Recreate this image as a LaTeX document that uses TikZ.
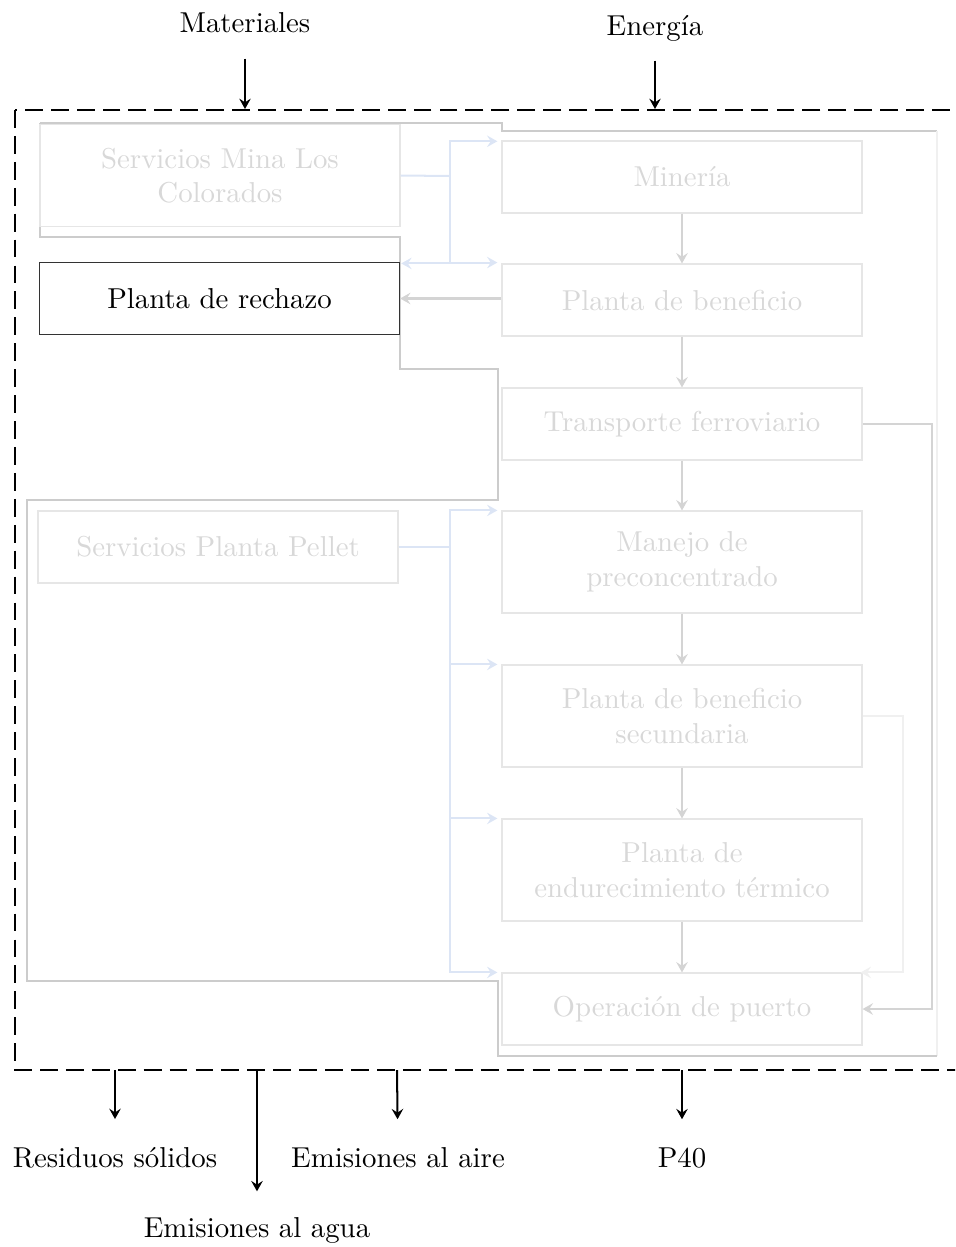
\documentclass[tikz,border=0pt]{standalone}
\usetikzlibrary{arrows.meta}
\definecolor{boxline}{HTML}{E6E6E6}
\definecolor{boxtext}{HTML}{D8D8D8}
\definecolor{flowgray}{HTML}{D4D4D4}
\definecolor{flowblue}{HTML}{DCE5F5}
\definecolor{framegray}{HTML}{CCCCCC}
\definecolor{faintgray}{HTML}{F0F0F0}
\begin{document}
\begin{tikzpicture}[x=0.3472pt,y=-0.3472pt,
  >={Stealth[length=3.6pt,width=4pt,inset=1.3pt]},
  proc/.style={draw=boxline, line width=0.4pt, text=boxtext, align=center,
    inner sep=0pt, minimum width=360*0.3472pt, minimum height=72*0.3472pt},
  tall/.style={minimum height=102*0.3472pt},
  gflow/.style={draw=flowgray, line width=0.7pt, ->},
  bline/.style={draw=flowblue, line width=0.7pt},
  bflow/.style={bline, ->, shorten >=1.4pt},
  frame/.style={draw=framegray, line width=0.4pt},
  sysbox/.style={draw=black, line width=0.8pt, dash pattern=on 6.2pt off 2.8pt},
  io/.style={draw=black, line width=0.7pt, ->}]
\useasboundingbox (0,0) rectangle (955,1247);
\clip (0,0) rectangle (955,1247);

% system boundary
\draw[sysbox] (15,110) rectangle (1000,1070);

% grouping outline around the process areas
\draw[frame] (40,123) -- (502,123) -- (502,131) -- (937,131);
\draw[draw=faintgray, line width=0.4pt] (937,131) -- (937,1056);
\draw[frame] (937,1056) -- (498,1056) -- (498,981) -- (27,981) -- (27,500)
  -- (498,500) -- (498,369) -- (400,369) -- (400,237) -- (40,237) -- (40,123);

% main process chain
\node[proc] (min) at (682,177) {Minería};
\node[proc] (pb) at (682,300) {Planta de beneficio};
\node[proc] (tf) at (682,424) {Transporte ferroviario};
\node[proc,tall] (mp) at (682,562) {Manejo de\\preconcentrado};
\node[proc,tall] (pbs) at (682,716) {Planta de beneficio\\secundaria};
\node[proc,tall] (pet) at (682,870) {Planta de\\endurecimiento térmico};
\node[proc] (op) at (682,1009) {Operación de puerto};

% services and reject plant
\node[proc,tall] (smc) at (220,175.5) {Servicios Mina Los\\Colorados};
\node[proc, draw=black!80, text=black] (rech) at (219.5,298.5) {Planta de rechazo};
\node[proc] (spp) at (218,547) {Servicios Planta Pellet};

% material flow
\draw[gflow] (min) -- (pb);
\draw[gflow] (pb) -- (tf);
\draw[gflow] (tf) -- (mp);
\draw[gflow] (mp) -- (pbs);
\draw[gflow] (pbs) -- (pet);
\draw[gflow] (pet) -- (op);
\draw[gflow] (pb.west |- rech.east) -- (rech.east);
\draw[gflow] (tf.east) -- ++(69,0) |- (op.east);
\draw[gflow, draw=faintgray] (pbs.east) -- ++(40,0) |- ([xshift=-0.7pt]op.north east);

% service supply lines
\coordinate (bj1) at (450,176);
\draw[bline] (smc.east) -- (bj1);
\draw[bflow] (bj1) |- ([yshift=-0.3pt]min.north west);
\draw[bflow] (bj1) |- ([yshift=0.3pt]pb.north west);
\draw[bflow, shorten >=0.4pt] (bj1 |- pb.north west) -- (rech.north east |- pb.north west);

\coordinate (bj2) at (450,547);
\draw[bline] (spp.east) -- (bj2);
\draw[bflow] (bj2) |- (mp.north west);
\draw[bflow] (bj2) |- (pbs.north west);
\draw[bflow] (bj2) |- (pet.north west);
\draw[bflow] (bj2) |- (op.north west);

% inputs
\node (mat) at (245,23) {Materiales};
\node (ene) at (655,28) {Energía};
\coordinate (matin) at (245,109);
\coordinate (enein) at (655,109);
\draw[io, shorten <=5.3pt] (mat) -- (matin);
\draw[io, shorten <=3.3pt] (ene) -- (enein);

% outputs
\coordinate (o1) at (115,1070);
\coordinate (o2) at (257,1070);
\coordinate (o3) at (397,1070);
\coordinate (o4) at (682,1070);
\node (res) at (115,1158) {Residuos sólidos};
\node (agua) at (257,1230) {Emisiones al agua};
\node (aire) at (398,1158) {Emisiones al aire};
\node (p40) at (682,1158) {P40};
\draw[io, shorten >=6.4pt] (o1) -- (res);
\draw[io, shorten >=5.4pt] (o2) -- (agua);
\draw[io, shorten >=6.4pt] (o3) -- (aire);
\draw[io, shorten >=6.4pt] (o4) -- (p40);
\end{tikzpicture}
\end{document}
